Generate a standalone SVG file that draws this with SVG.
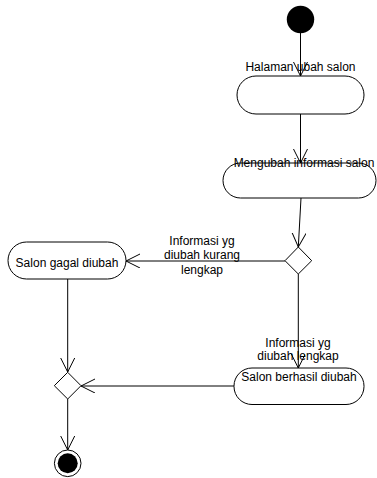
<svg xmlns="http://www.w3.org/2000/svg" width="377" height="478" viewBox="0 0 377 478">
<style>
.node{fill:#fff;stroke:#000;stroke-width:1}
.t{font-family:"Liberation Sans",Arial,sans-serif;font-size:12px;fill:#000;text-anchor:middle}
.c{fill:none;stroke:#000;stroke-width:1;marker-end:url(#arr)}
</style>
<defs>
<marker id="arr" markerUnits="userSpaceOnUse" markerWidth="16" markerHeight="16" refX="14" refY="7" orient="auto">
<path d="M0,0 L14,7 L0,14" fill="none" stroke="#000" stroke-width="1"/>
</marker>
</defs>
<rect width="377" height="478" fill="#fff"/>
<g id="start"><circle cx="300.5" cy="19.5" r="13.7" fill="#000"/></g>
<g id="connectors">
<line class="c" x1="300.5" y1="33" x2="300.5" y2="76"/>
<line class="c" x1="300.5" y1="114" x2="300.5" y2="163"/>
<line class="c" x1="301" y1="198" x2="298.3" y2="247"/>
<line class="c" x1="285" y1="261" x2="126" y2="261"/>
<line class="c" x1="298.3" y1="274" x2="298.3" y2="368"/>
<line class="c" x1="67.7" y1="279" x2="67.7" y2="372"/>
<line class="c" x1="234" y1="386" x2="81" y2="386"/>
<line class="c" x1="67.7" y1="399" x2="67.7" y2="450"/>
</g>
<g id="halaman">
<rect class="node" x="237" y="76" width="127" height="38" rx="19" ry="19"/>
<text class="t" x="300.5" y="71">Halaman ubah salon</text>
</g>
<g id="mengubah">
<rect class="node" x="223" y="163" width="153" height="35" rx="17.5" ry="17.5"/>
<text class="t" x="304" y="167">Mengubah informasi salon</text>
</g>
<g id="decision">
<polygon class="node" points="298.3,247 311.7,260.7 298.3,274 285,260.7"/>
</g>
<g id="gagal">
<rect class="node" x="8" y="242" width="118" height="37" rx="18.5" ry="18.5"/>
<text class="t" x="67" y="267">Salon gagal diubah</text>
</g>
<g id="berhasil">
<rect class="node" x="234" y="368" width="130" height="36.5" rx="18" ry="18"/>
<text class="t" x="299" y="381">Salon berhasil diubah</text>
</g>
<g id="merge">
<polygon class="node" points="67.7,372.3 81,385.7 67.7,399 54.3,385.7"/>
</g>
<g id="end">
<circle cx="67.7" cy="463.3" r="13.3" fill="#fff" stroke="#000" stroke-width="1"/>
<circle cx="67.7" cy="463.3" r="10" fill="#000"/>
</g>
<g id="labels">
<text class="t" x="202" y="245">Informasi yg</text>
<text class="t" x="202" y="259">diubah kurang</text>
<text class="t" x="202" y="274">lengkap</text>
<text class="t" x="298" y="347">Informasi yg</text>
<text class="t" x="298" y="360">diubah lengkap</text>
</g>
</svg>
